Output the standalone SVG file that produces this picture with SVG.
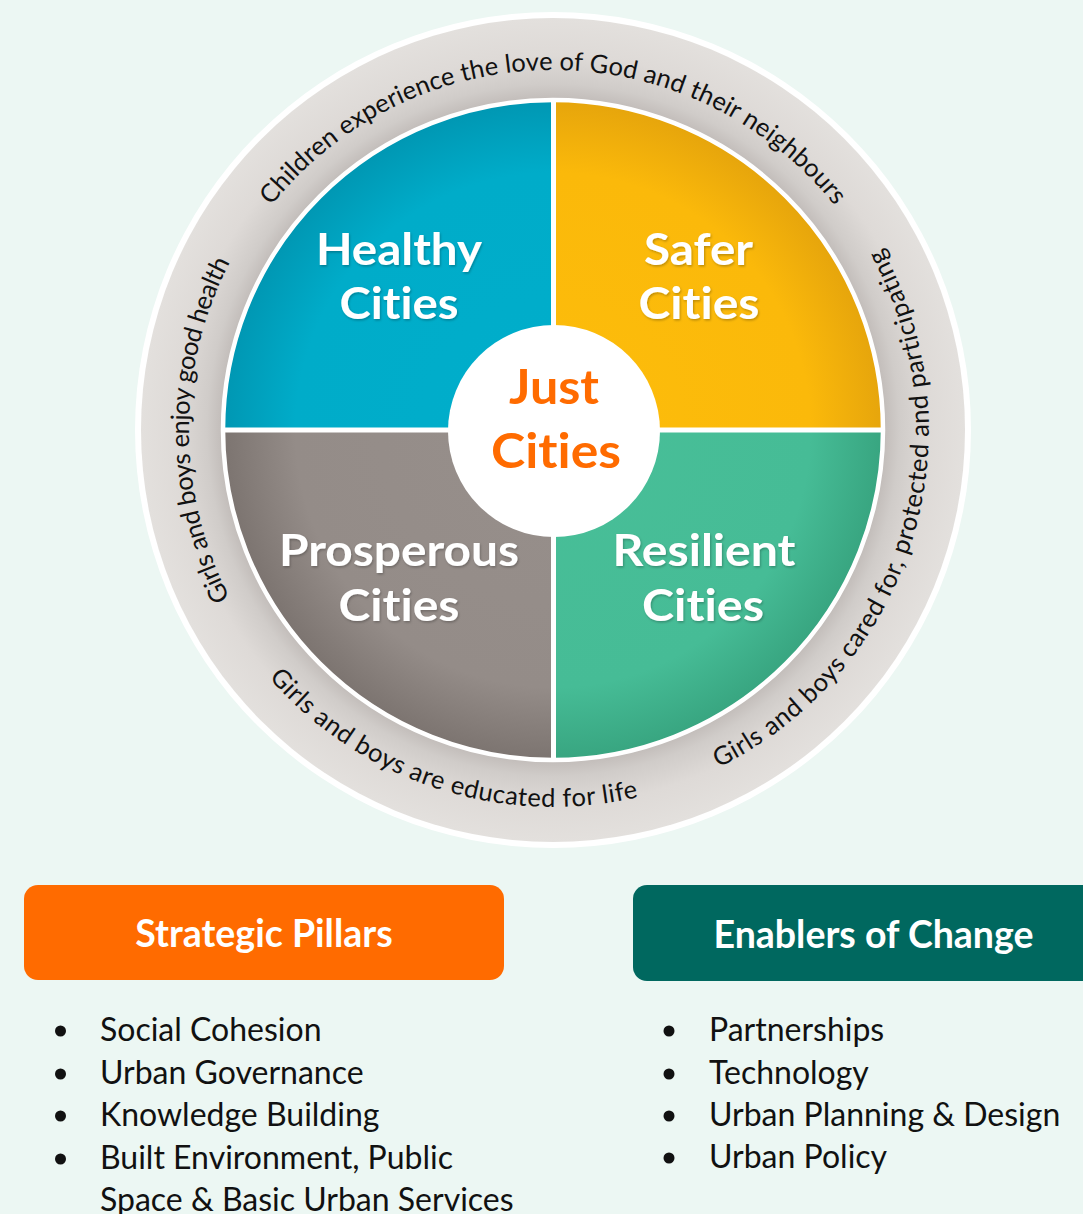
<svg xmlns="http://www.w3.org/2000/svg" width="1083" height="1214" viewBox="0 0 1083 1214">
  <style>
    text { font-variant-ligatures: none; font-feature-settings: "liga" 0, "clig" 0, "dlig" 0; }
    .ring { font-family: "Lato", "Liberation Sans", sans-serif; font-size: 25.5px; fill: #111; }
    .q { font-family: "Lato", "Liberation Sans", sans-serif; font-weight: 700; font-size: 43px; fill: #fff; text-anchor: middle; filter: url(#ts); }
    .just { font-family: "Lato", "Liberation Sans", sans-serif; font-weight: 700; font-size: 48px; fill: #FF6B00; text-anchor: middle; }
    .hdr { font-family: "Lato", "Liberation Sans", sans-serif; font-weight: 700; font-size: 37.5px; fill: #fff; text-anchor: middle; }
    .li { font-family: "Lato", "Liberation Sans", sans-serif; font-size: 32px; fill: #111; }
    .dot { fill: #111; }
  </style>
  <defs>
    <filter id="ts" x="-10%" y="-20%" width="120%" height="140%">
      <feDropShadow dx="1" dy="1.5" stdDeviation="1" flood-color="#000" flood-opacity="0.25"/>
    </filter>
    <radialGradient id="gRing" gradientUnits="userSpaceOnUse" cx="553" cy="430" r="412">
      <stop offset="0.79" stop-color="#bdb7b4"/>
      <stop offset="0.84" stop-color="#d0ccc9"/>
      <stop offset="0.91" stop-color="#dedad7"/>
      <stop offset="1" stop-color="#e3e0dd"/>
    </radialGradient>
    <radialGradient id="gH" gradientUnits="userSpaceOnUse" cx="553" cy="430" r="330">
      <stop offset="0" stop-color="#00AECB"/>
      <stop offset="0.78" stop-color="#00ACC9"/>
      <stop offset="1" stop-color="#0097B3"/>
    </radialGradient>
    <radialGradient id="gS" gradientUnits="userSpaceOnUse" cx="553" cy="430" r="330">
      <stop offset="0" stop-color="#FDBD0B"/>
      <stop offset="0.78" stop-color="#FBB90A"/>
      <stop offset="1" stop-color="#E6A50C"/>
    </radialGradient>
    <radialGradient id="gP" gradientUnits="userSpaceOnUse" cx="553" cy="430" r="330">
      <stop offset="0" stop-color="#978F8B"/>
      <stop offset="0.78" stop-color="#948C88"/>
      <stop offset="1" stop-color="#7C7470"/>
    </radialGradient>
    <radialGradient id="gR" gradientUnits="userSpaceOnUse" cx="553" cy="430" r="330">
      <stop offset="0" stop-color="#48BF98"/>
      <stop offset="0.78" stop-color="#46BC96"/>
      <stop offset="1" stop-color="#38A580"/>
    </radialGradient>
    <path id="arcTop" d="M193,430 A360,360 0 0 1 913,430"/>
    <path id="arcLeft" d="M553,794 A364,364 0 0 1 553,66"/>
    <path id="arcBottom" d="M176,430 A377,377 0 0 0 930,430"/>
    <path id="arcRight" d="M553,806 A376,376 0 0 0 553,54"/>
  </defs>

  <rect x="0" y="0" width="1083" height="1214" fill="#ECF7F3"/>

  <g id="outer-ring">
    <circle cx="553" cy="430" r="418" fill="#ffffff"/>
    <circle cx="553" cy="430" r="412" fill="url(#gRing)"/>
    <text class="ring"><textPath href="#arcTop" startOffset="50%" text-anchor="middle" textLength="647" lengthAdjust="spacing">Children experience the love of God and their neighbours</textPath></text>
    <text class="ring"><textPath href="#arcLeft" startOffset="50%" text-anchor="middle" textLength="349" lengthAdjust="spacing">Girls and boys enjoy good health</textPath></text>
    <text class="ring"><textPath href="#arcBottom" startOffset="40.06%" text-anchor="middle" textLength="408" lengthAdjust="spacing">Girls and boys are educated for life</textPath></text>
    <text class="ring"><textPath href="#arcRight" startOffset="40.3%" text-anchor="middle" textLength="609" lengthAdjust="spacing">Girls and boys cared for, protected and participating</textPath></text>
  </g>

  <g id="healthy-cities">
    <path d="M553,430 L223,430 A330,330 0 0 1 553,100 Z" fill="url(#gH)"/>
    <text class="q" x="399" y="265" textLength="166" lengthAdjust="spacingAndGlyphs">Healthy</text>
    <text class="q" x="399" y="319" textLength="119" lengthAdjust="spacingAndGlyphs">Cities</text>
  </g>
  <g id="safer-cities">
    <path d="M553,430 L553,100 A330,330 0 0 1 883,430 Z" fill="url(#gS)"/>
    <text class="q" x="698.5" y="265" textLength="109" lengthAdjust="spacingAndGlyphs">Safer</text>
    <text class="q" x="699" y="319" textLength="121" lengthAdjust="spacingAndGlyphs">Cities</text>
  </g>
  <g id="resilient-cities">
    <path d="M553,430 L883,430 A330,330 0 0 1 553,760 Z" fill="url(#gR)"/>
    <text class="q" x="704" y="566" textLength="183" lengthAdjust="spacingAndGlyphs">Resilient</text>
    <text class="q" x="703" y="621" textLength="122" lengthAdjust="spacingAndGlyphs">Cities</text>
  </g>
  <g id="prosperous-cities">
    <path d="M553,430 L553,760 A330,330 0 0 1 223,430 Z" fill="url(#gP)"/>
    <text class="q" x="399" y="566" textLength="240" lengthAdjust="spacingAndGlyphs">Prosperous</text>
    <text class="q" x="399" y="621" textLength="121" lengthAdjust="spacingAndGlyphs">Cities</text>
  </g>

  <g id="dividers">
    <line x1="553.5" y1="98" x2="553.5" y2="762" stroke="#ffffff" stroke-width="5"/>
    <line x1="221" y1="430" x2="885" y2="430" stroke="#ffffff" stroke-width="5"/>
    <circle cx="553" cy="430" r="330" fill="none" stroke="#ffffff" stroke-width="4.5"/>
  </g>

  <g id="just-cities">
    <circle cx="554" cy="431" r="106" fill="#ffffff"/>
    <text class="just" x="554" y="404" textLength="90" lengthAdjust="spacingAndGlyphs">Just</text>
    <text class="just" x="556" y="468" textLength="130" lengthAdjust="spacingAndGlyphs">Cities</text>
  </g>

  <g id="strategic-pillars">
    <rect x="24" y="885" width="480" height="95" rx="14" fill="#FF6B00"/>
    <text class="hdr" x="264" y="947">Strategic Pillars</text>
    <circle class="dot" cx="60.5" cy="1031" r="5.5"/>
    <text class="li" x="100" y="1041">Social Cohesion</text>
    <circle class="dot" cx="60.5" cy="1074" r="5.5"/>
    <text class="li" x="100" y="1084">Urban Governance</text>
    <circle class="dot" cx="60.5" cy="1116" r="5.5"/>
    <text class="li" x="100" y="1126">Knowledge Building</text>
    <circle class="dot" cx="60.5" cy="1159" r="5.5"/>
    <text class="li" x="100" y="1169">Built Environment, Public</text>
    <text class="li" x="100" y="1211">Space &amp; Basic Urban Services</text>
  </g>

  <g id="enablers-of-change">
    <rect x="633" y="885" width="470" height="96" rx="14" fill="#00685F"/>
    <text class="hdr" x="873.5" y="948">Enablers of Change</text>
    <circle class="dot" cx="669" cy="1031" r="5.5"/>
    <text class="li" x="709" y="1041">Partnerships</text>
    <circle class="dot" cx="669" cy="1074" r="5.5"/>
    <text class="li" x="709" y="1084">Technology</text>
    <circle class="dot" cx="669" cy="1116" r="5.5"/>
    <text class="li" x="709" y="1126">Urban Planning &amp; Design</text>
    <circle class="dot" cx="669" cy="1158" r="5.5"/>
    <text class="li" x="709" y="1168">Urban Policy</text>
  </g>
</svg>
